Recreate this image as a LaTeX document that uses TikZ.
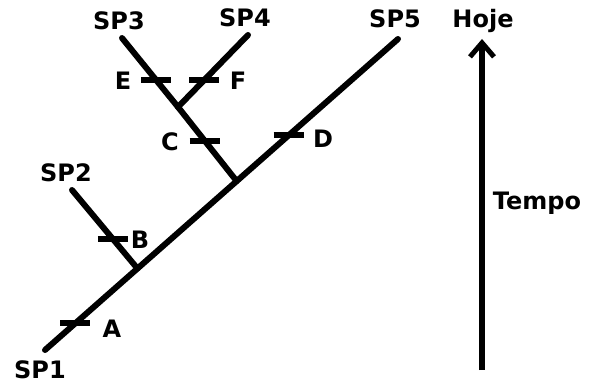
\documentclass[tikz,border=0pt]{standalone}
\usepackage{fontspec}
\setmainfont{DejaVu Sans}
\usetikzlibrary{arrows.meta,calc}
\begin{document}
\begin{tikzpicture}[x=1pt,y=-1pt,
  branch/.style={line width=6pt,line cap=round},
  tick/.style={line width=6pt},
  lbl/.style={font=\bfseries\fontsize{24}{24}\selectfont,inner sep=0pt,anchor=base}]
\useasboundingbox (0,0) rectangle (593,385);
% tips and junctions
\coordinate (sp1) at (45,350);
\coordinate (sp5) at (398,39);
\coordinate (sp2) at (72,190);
\coordinate (sp3) at (122,38);
\coordinate (sp4) at (248,35);
\coordinate (j2) at ($(sp1)!0.262!(sp5)$);
\coordinate (j1) at ($(sp1)!0.543!(sp5)$);
\coordinate (fork) at (178,107);
% branches
\draw[branch] (sp1) -- (sp5);
\draw[branch] (j2) -- (sp2);
\draw[branch] (j1) -- (fork);
\draw[branch] (fork) -- (sp3);
\draw[branch] (fork) -- (sp4);
% tick points
\coordinate (tA) at ($(sp1)!0.086!(sp5)$);
\coordinate (tD) at ($(sp1)!0.69!(sp5)$);
\coordinate (tB) at ($(j2)!0.375!(sp2)$);
\coordinate (tC) at ($(j1)!0.547!(fork)$);
\coordinate (tE) at ($(fork)!0.39!(sp3)$);
\coordinate (tF) at ($(fork)!0.375!(sp4)$);
\foreach \t in {tA,tB,tC,tD,tE,tF}
  \draw[tick] ([xshift=-15pt]\t) -- ([xshift=15pt]\t);
% labels
\node[lbl] (lA) at (112,337) {A};
\node[lbl] (lB) at (140,248) {B};
\node[lbl] (lC) at (170,150) {C};
\node[lbl] (lD) at (323,147) {D};
\node[lbl] (lE) at (123,89) {E};
\node[lbl] (lF) at (238,89) {F};
\node[lbl] (l1) at (40,378) {SP1};
\node[lbl] (l2) at (66,181) {SP2};
\node[lbl] (l3) at (119,30) {SP3};
\node[lbl] (l4) at (245,27) {SP4};
\node[lbl] (l5) at (395,28) {SP5};
\node[lbl] (hoje) at (483,28) {Hoje};
\node[lbl] (tempo) at (537,209) {Tempo};
% time arrow
\coordinate (tbot) at (482,370);
\coordinate (ttop) at (482,39);
\draw[line width=6pt,-{Straight Barb[length=14pt,width=24pt,line width=5pt]}] (tbot) -- (ttop);
\end{tikzpicture}
\end{document}
